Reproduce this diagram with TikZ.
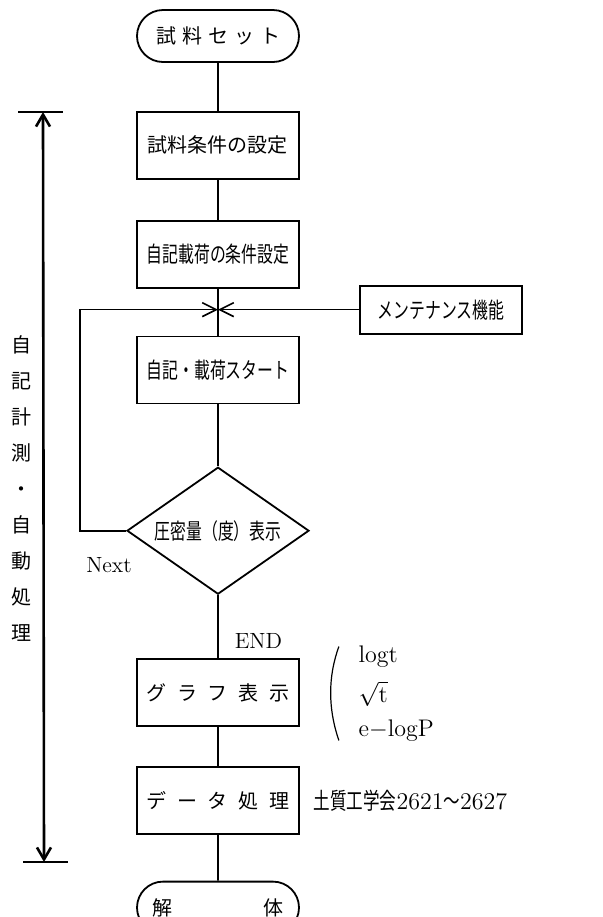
\documentclass[tikz,border=0pt]{standalone}
\usepackage{fontspec}
\usepackage{amsmath}
\usepackage{tikz}
\usetikzlibrary{arrows.meta,positioning,shapes.geometric,shapes.misc,calc}
\newfontfamily\jpfont{Noto Sans CJK JP}
\newfontfamily\jpnarrow[FakeStretch=0.72]{Noto Sans CJK JP}
\newcommand{\jgap}[1][3pt]{\hspace{#1}}

\begin{document}
\begin{tikzpicture}[line width=0.8pt, every node/.style={font=\fontsize{10}{12}\selectfont\jpfont},
  box/.style={draw,line width=0.9pt,minimum width=81pt,minimum height=33.5pt,inner sep=0pt},
  term/.style={draw,line width=0.9pt,rounded rectangle,minimum width=81pt,minimum height=26pt,inner sep=0pt},
  decide/.style={draw,line width=0.9pt,diamond,aspect=1.43,minimum width=91pt,minimum height=63.5pt,inner sep=0pt},
  narrow/.style={font=\fontsize{11}{13}\selectfont\jpnarrow},
  latin/.style={font=\fontsize{11}{13}\selectfont\rmfamily},
  note/.style={font=\fontsize{12}{14}\selectfont\rmfamily,inner sep=0pt,anchor=base west},
  barb/.style={-{Straight Barb[length=7pt,width=7pt]}}]
  \useasboundingbox (0,0) rectangle (301pt,-458.5pt);
  % main flow
  \node[term] (start) at (109pt,-18pt) {試\jgap 料\jgap セ\jgap ッ\jgap ト};
  \node[box,below=24pt of start] (cond) {試料条件の設定};
  \node[box,narrow,below=20pt of cond] (load) {自記載荷の条件設定};
  \node[box,narrow,below=23.5pt of load] (run) {自記・載荷スタート};
  \node[decide,narrow,below=31pt of run] (show) {圧密量（度）表示};
  \node[box,below=31.5pt of show] (graph) {グ\jgap[5.5pt]ラ\jgap[5.5pt]フ\jgap[5.5pt]表\jgap[5.5pt]示};
  \node[box,below=19.5pt of graph] (proc) {デ\jgap[5.5pt]ー\jgap[5.5pt]タ\jgap[5.5pt]処\jgap[5.5pt]理};
  \node[term,below=23pt of proc] (finish) {解\jgap[45.5pt]体};
  \draw (start) -- (cond);
  \draw (cond) -- (load);
  \draw (load) -- (run);
  \draw (run) -- (show);
  \draw (show) -- (graph);
  \draw (graph) -- (proc);
  \draw (proc) -- (finish);
  % loop and maintenance
  \coordinate (merge) at ($(load.south)!0.45!(run.north)$);
  \node[box,narrow,right=70.5pt of merge,minimum height=24pt] (maint) {メンテナンス機能};
  \draw[barb] (maint) -- (merge);
  \draw[barb] (show.west) -- ++(-23pt,0) |- (merge);
  \node[latin] (nextlabel) at (54.5pt,-282.5pt) {Next};
  \node[latin,anchor=south west,inner sep=0pt] (endlabel) at ([xshift=8pt,yshift=4.5pt]graph.north) {END};
  % notes
  \node[note] (nlog) at ([xshift=29pt,yshift=15pt]graph.east) {logt};
  \node[note] (nroot) at ([xshift=29pt,yshift=-5pt]graph.east) {$\sqrt{\mathrm{t}}$};
  \node[note] (nelog) at ([xshift=29pt,yshift=-22pt]graph.east) {e$-$logP};
  \draw[line width=0.6pt] ([shift={(19.5pt,23pt)}]graph.east) .. controls ([shift={(14pt,8pt)}]graph.east) and ([shift={(14pt,-8pt)}]graph.east) .. ([shift={(19.5pt,-24pt)}]graph.east);
  \node[font=\fontsize{11.5}{13}\selectfont\jpnarrow,inner sep=0pt,right=6.5pt of proc] (std) {土質工学会{\fontsize{12}{13}\selectfont\rmfamily 2621}〜{\fontsize{12}{13}\selectfont\rmfamily 2627}};
  % side range
  \coordinate (stop) at (21.5pt,-56pt);
  \coordinate (sbot) at (22pt,-431pt);
  \draw[line width=1.3pt,{Straight Barb[length=6pt,width=7pt]}-{Straight Barb[length=6pt,width=7pt]}] (stop) -- (sbot);
  \draw[line width=1pt] ([xshift=-12.5pt]stop) -- ([xshift=10pt]stop);
  \draw[line width=1pt] ([xshift=-10.5pt]sbot) -- ([xshift=12pt]sbot);
  \node[font=\fontsize{10}{18}\selectfont\jpfont,align=center,inner sep=0pt] (side) at (10.5pt,-244.5pt) {自\\記\\計\\測\\・\\自\\動\\処\\理};
\end{tikzpicture}
\end{document}
